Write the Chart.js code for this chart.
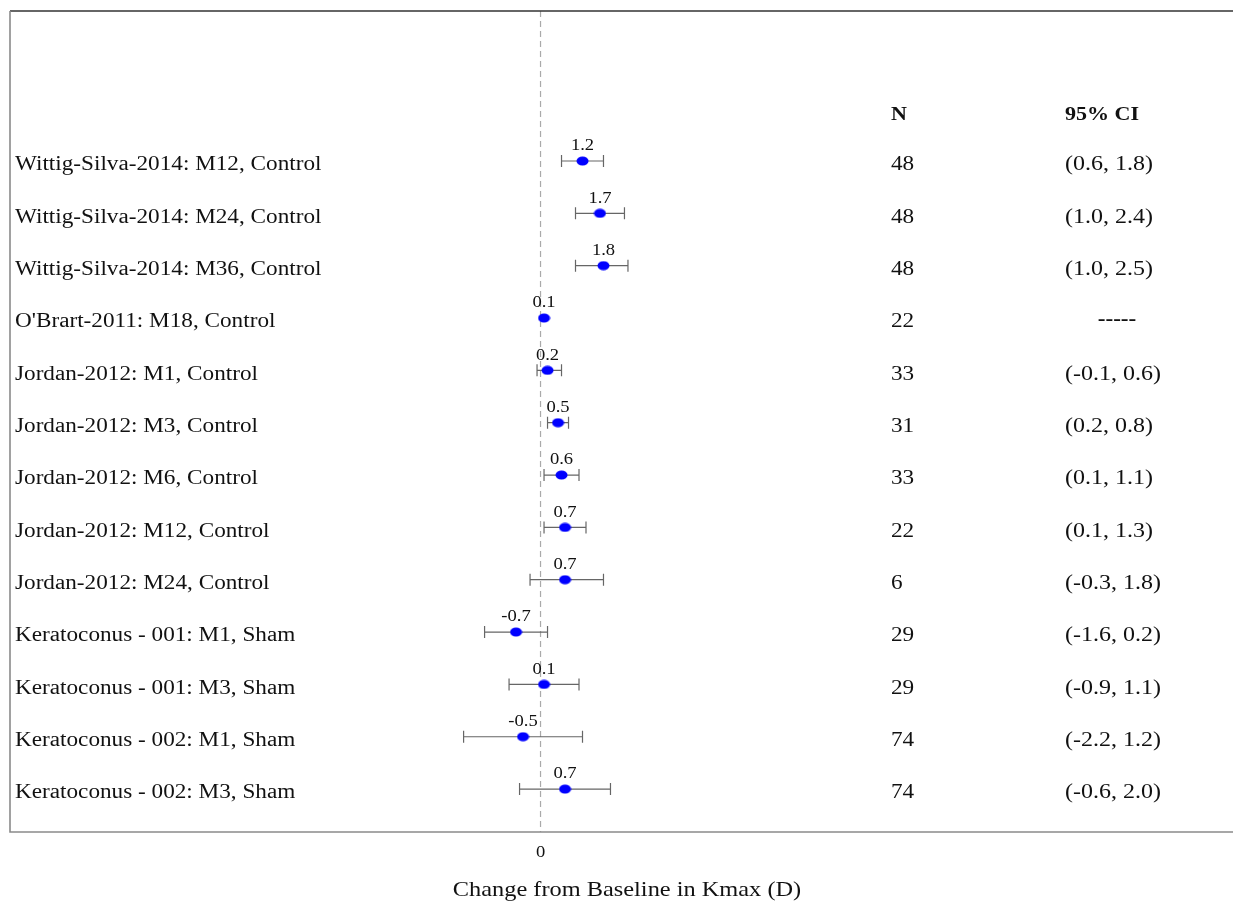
<!DOCTYPE html>
<html>
<head>
<meta charset="utf-8">
<title>Change from Baseline in Kmax (D)</title>
<script src="https://cdn.jsdelivr.net/npm/chart.js@4.4.1/dist/chart.umd.min.js"></script>
<style>
  html, body { margin: 0; padding: 0; background: #fff; }
  #wrap { width: 1233px; height: 904px; }
</style>
</head>
<body>
<div id="wrap"><canvas id="forest" width="1233" height="904"></canvas></div>
<script>
// forest plot data, one entry per study row
const studies = [
  'Wittig-Silva-2014: M12, Control',
  'Wittig-Silva-2014: M24, Control',
  'Wittig-Silva-2014: M36, Control',
  "O'Brart-2011: M18, Control",
  'Jordan-2012: M1, Control',
  'Jordan-2012: M3, Control',
  'Jordan-2012: M6, Control',
  'Jordan-2012: M12, Control',
  'Jordan-2012: M24, Control',
  'Keratoconus - 001: M1, Sham',
  'Keratoconus - 001: M3, Sham',
  'Keratoconus - 002: M1, Sham',
  'Keratoconus - 002: M3, Sham',
];
const estimates = [1.2, 1.7, 1.8, 0.1, 0.2, 0.5, 0.6, 0.7, 0.7, -0.7, 0.1, -0.5, 0.7];
const ciLow  = [0.6, 1.0, 1.0, null, -0.1, 0.2, 0.1, 0.1, -0.3, -1.6, -0.9, -2.2, -0.6];
const ciHigh = [1.8, 2.4, 2.5, null, 0.6, 0.8, 1.1, 1.3, 1.8, 0.2, 1.1, 1.2, 2.0];
const sampleN = [48, 48, 48, 22, 33, 31, 33, 22, 6, 29, 29, 74, 74];
const xTicks = [0];
const xTitle = 'Change from Baseline in Kmax (D)';

const SERIF = '"Liberation Serif", "DejaVu Serif", serif';
const SX = 1.16;                 // the source's text is drawn a bit wide
const NCOL_X = 891, CICOL_X = 1065;

const ciText = (i) => ciLow[i] == null ? '-----'
  : `(${ciLow[i].toFixed(1)}, ${ciHigh[i].toFixed(1)})`;

function wideText(ctx, str, x, y, align, sx) {
  ctx.save();
  ctx.translate(x, y);
  ctx.scale(sx || SX, 1);
  ctx.textAlign = align || 'left';
  ctx.fillText(str, 0, 0);
  ctx.restore();
}

// slightly flattened blue dot used as the point style
const dot = document.createElement('canvas');
dot.width = 13; dot.height = 10;
(() => {
  const c = dot.getContext('2d');
  c.fillStyle = '#0000ff';
  c.beginPath(); c.ellipse(6.5, 5, 6, 4.6, 0, 0, Math.PI * 2); c.fill();
})();

// frame, zero line, whiskers, value labels and the side table
const forestPlugin = {
  id: 'forest',
  beforeDatasetsDraw(chart) {
    const { ctx, chartArea: a, scales: { x, y } } = chart;
    ctx.save();
    // dashed reference line at 0
    const x0 = x.getPixelForValue(0);
    ctx.strokeStyle = '#aaaaaa';
    ctx.lineWidth = 1.2;
    ctx.setLineDash([6, 4]);
    ctx.beginPath(); ctx.moveTo(x0, a.top); ctx.lineTo(x0, a.bottom); ctx.stroke();
    ctx.setLineDash([]);
    // frame (open on the right)
    ctx.strokeStyle = '#333333'; ctx.lineWidth = 1.3;
    ctx.beginPath(); ctx.moveTo(a.left, a.top); ctx.lineTo(chart.width, a.top); ctx.stroke();
    ctx.strokeStyle = '#8a8a8a'; ctx.lineWidth = 1.6;
    ctx.beginPath(); ctx.moveTo(a.left, a.top); ctx.lineTo(a.left, a.bottom); ctx.lineTo(chart.width, a.bottom); ctx.stroke();
    // CI whiskers
    ctx.strokeStyle = '#666666'; ctx.lineWidth = 1.2;
    studies.forEach((_, i) => {
      if (ciLow[i] == null) return;
      const py = y.getPixelForValue(i);
      const l = x.getPixelForValue(ciLow[i]), h = x.getPixelForValue(ciHigh[i]);
      ctx.beginPath();
      ctx.moveTo(l, py); ctx.lineTo(h, py);
      ctx.moveTo(l, py - 6); ctx.lineTo(l, py + 6);
      ctx.moveTo(h, py - 6); ctx.lineTo(h, py + 6);
      ctx.stroke();
    });
    ctx.restore();
  },
  afterDatasetsDraw(chart) {
    const { ctx, chartArea: a, scales: { x, y } } = chart;
    ctx.save();
    ctx.fillStyle = '#111';
    ctx.textBaseline = 'middle';
    // estimate labels above the points
    ctx.font = `16px ${SERIF}`;
    estimates.forEach((v, i) => {
      wideText(ctx, v.toFixed(1), x.getPixelForValue(v), y.getPixelForValue(i) - 15, 'center');
    });
    // header
    const hy = y.getPixelForValue(-0.92) + 2;
    ctx.font = `bold 19px ${SERIF}`;
    wideText(ctx, 'N', NCOL_X, hy);
    wideText(ctx, '95% CI', CICOL_X, hy);
    // rows
    studies.forEach((name, i) => {
      const py = y.getPixelForValue(i) + 4;
      ctx.font = `20px ${SERIF}`;
      wideText(ctx, name, a.left + 5, py);
      wideText(ctx, String(sampleN[i]), NCOL_X, py);
      if (ciLow[i] == null) {
        ctx.font = `bold 20px ${SERIF}`;
        wideText(ctx, ciText(i), CICOL_X + 52, py - 2, 'center');
      } else {
        wideText(ctx, ciText(i), CICOL_X, py, 'left', 1.2);
      }
    });
    // tick label and axis title
    ctx.font = `16px ${SERIF}`;
    xTicks.forEach((t) => wideText(ctx, String(t), x.getPixelForValue(t), a.bottom + 21, 'center'));
    ctx.font = `21px ${SERIF}`;
    wideText(ctx, xTitle, (a.left + a.right) / 2 + 9, 890, 'center');
    ctx.restore();
  },
};

new Chart(document.getElementById('forest'), {
  type: 'scatter',
  data: {
    datasets: [{
      label: 'Estimate',
      data: estimates.map((v, i) => ({ x: v, y: i })),
      pointStyle: dot,
      pointRadius: 6,
      pointHoverRadius: 6,
    }],
  },
  options: {
    responsive: false,
    animation: false,
    layout: { padding: { left: 10, top: 11, right: 0, bottom: 0 } },
    plugins: { legend: { display: false }, tooltip: { enabled: false } },
    scales: {
      x: {
        type: 'linear',
        min: -15.17,
        max: 19.6,
        afterBuildTicks: (s) => { s.ticks = xTicks.map((v) => ({ value: v })); },
        afterFit: (s) => { s.height = 72; },
        grid: { display: false, drawTicks: false },
        border: { display: false },
        ticks: { display: false },
      },
      y: {
        type: 'linear',
        display: false,
        reverse: true,
        min: -2.866,
        max: 12.82,
      },
    },
  },
  plugins: [forestPlugin],
});
</script>
</body>
</html>
